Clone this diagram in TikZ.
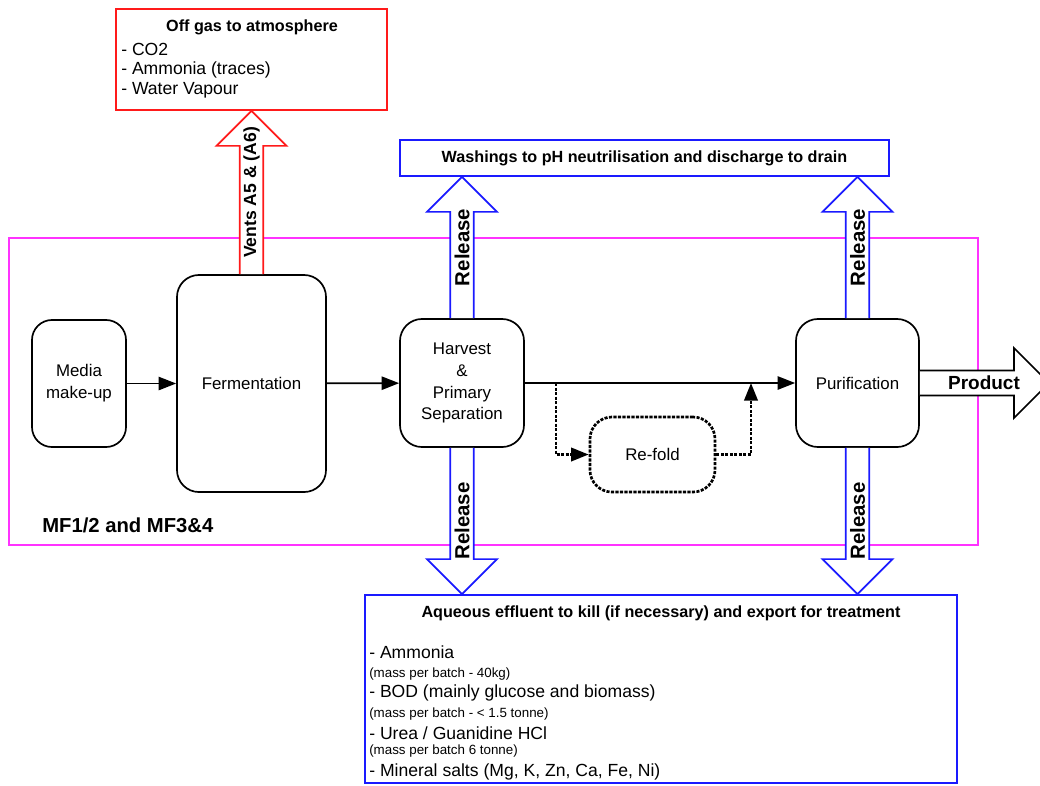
\documentclass[tikz,border=0pt]{standalone}
\usepackage{fontspec}
\setmainfont{Liberation Sans}
\usepackage{xcolor}
\usepackage{tikz}
\usetikzlibrary{arrows.meta,calc}

\definecolor{gasred}{HTML}{FF1A1A}
\definecolor{washblue}{HTML}{1A1AFF}
\definecolor{areapink}{HTML}{FF33FF}

\tikzset{
  unit/.style={draw, line width=1.2pt, rounded corners=0.55cm, align=center,
    font=\fontsize{12}{15.6}\selectfont},
  sink/.style={draw, line width=1.2pt},
  heading/.style={font=\bfseries\fontsize{11.5}{14}\selectfont, inner sep=0pt},
  item/.style={anchor=west, inner sep=0pt, font=\fontsize{12.5}{15}\selectfont},
  note/.style={anchor=west, inner sep=0pt, font=\fontsize{9.5}{11}\selectfont},
  flow/.style={-{Triangle[length=12.5pt,width=9.5pt]}, line width=1.2pt},
  refolding/.style={flow, line width=1.9pt, dash pattern=on 2.2pt off 1pt},
  arrowlabel/.style={rotate=90, inner sep=0pt, font=\bfseries\fontsize{14.5}{16}\selectfont}
}

% #1 colour, #2 start, #3 tip, #4 label, #5 direction (1 up, -1 down), #6 name
\newcommand{\bigarrow}[6]{%
  \draw[#1, line width=1.2pt, fill=white] let \p1=(#2), \p2=(#3) in
    ({\x1-8.4pt},{\y1}) -- ({\x1-8.4pt},{\y2-(#5)*24.9pt}) -- ({\x1-24.9pt},{\y2-(#5)*24.9pt})
    -- ({\x1},{\y2}) -- ({\x1+24.9pt},{\y2-(#5)*24.9pt}) -- ({\x1+8.4pt},{\y2-(#5)*24.9pt})
    -- ({\x1+8.4pt},{\y1});
  \node[arrowlabel] (#6) at ($(#2)!0.5!(#3)$) {#4};
}

\begin{document}
\begin{tikzpicture}[x=0.025cm,y=-0.025cm]
\useasboundingbox (0,0) rectangle (1040,785);
\clip (0,0) rectangle (1040,785);

% site boundary
\draw[areapink, line width=1.2pt] (9,238) rectangle (978,545);
\node[anchor=west, inner sep=0pt, font=\bfseries\fontsize{14.4}{17}\selectfont] (site) at (42,525) {MF1/2 and MF3\&4};

% process units
\node[unit, rounded corners=0.5cm, minimum width=2.35cm, minimum height=3.175cm] (media) at (79,383.5) {Media\\make-up};
\node[unit, minimum width=3.725cm, minimum height=5.425cm] (ferm) at (251.5,383.5) {Fermentation};
\node[unit, minimum width=3.1cm, minimum height=3.2cm] (harvest) at (462,383) {Harvest\\\&\\Primary\\Separation};
\node[unit, minimum width=3.075cm, minimum height=3.2cm] (purif) at (857.5,383) {Purification};
\node[unit, line width=1.9pt, dash pattern=on 2.2pt off 1pt, minimum width=3.125cm, minimum height=1.875cm] (refold) at (652.5,454.5) {Re-fold};

% off gas
\node[sink, draw=gasred, minimum width=6.775cm, minimum height=2.525cm] (offgas) at (251.5,59.5) {};
\node[heading] (gastitle) at (252,27) {Off gas to atmosphere};
\node[item] (gas1) at (121,49) {- CO2};
\node[item] (gas2) at (121,70) {- Ammonia (traces)};
\node[item] (gas3) at (121,90) {- Water Vapour};

% washings
\node[sink, draw=washblue, minimum width=12.225cm, minimum height=0.9cm] (drain) at (644.5,158) {};
\node[heading] (draintitle) at (644.5,158) {Washings to pH neutrilisation and discharge to drain};

% aqueous effluent
\node[sink, draw=washblue, minimum width=14.8cm, minimum height=4.7cm] (effluent) at (661,689) {};
\node[heading] (efftitle) at (661,613) {Aqueous effluent to kill (if necessary) and export for treatment};
\node[item] (eff1) at (369,652) {- Ammonia};
\node[note] (eff1m) at (369,674) {(mass per batch - 40kg)};
\node[item] (eff2) at (369,693) {- BOD (mainly glucose and biomass)};
\node[note] (eff2m) at (369,714) {(mass per batch - < 1.5 tonne)};
\node[item] (eff3) at (369,733) {- Urea / Guanidine HCl};
\node[note] (eff3m) at (369,751) {(mass per batch 6 tonne)};
\node[item] (eff4) at (369,772) {- Mineral salts (Mg, K, Zn, Ca, Fe, Ni)};

% main line
\draw[flow] (media) -- (ferm);
\draw[flow] (ferm) -- (harvest);
\draw[flow] (harvest) -- (purif);
\coordinate (split) at (556,383);
\coordinate (join) at (751,383);
\draw[refolding] (split) |- (refold);
\draw[refolding] (refold) -| (join);

% releases
\bigarrow{gasred}{ferm.north}{ferm.north |- offgas.south}{\fontsize{12.5}{14}\selectfont Vents A5 \& (A6)}{1}{vents}
\bigarrow{washblue}{harvest.north}{harvest.north |- drain.south}{Release}{1}{relA}
\bigarrow{washblue}{purif.north}{purif.north |- drain.south}{Release}{1}{relB}
\bigarrow{washblue}{harvest.south}{harvest.south |- effluent.north}{Release}{-1}{relC}
\bigarrow{washblue}{purif.south}{purif.south |- effluent.north}{Release}{-1}{relD}

% product
\draw[line width=1.2pt, fill=white] let \p1=(purif.east) in
  ({\x1},{\y1+8.9pt}) -- ({\x1+66.9pt},{\y1+8.9pt}) -- ({\x1+66.9pt},{\y1+24.9pt}) -- ({\x1+91.8pt},{\y1})
  -- ({\x1+66.9pt},{\y1-24.9pt}) -- ({\x1+66.9pt},{\y1-8.9pt}) -- ({\x1},{\y1-8.9pt});
\node[inner sep=0pt, font=\bfseries\fontsize{13.5}{16}\selectfont] (product) at (984,383) {Product};
\end{tikzpicture}
\end{document}
